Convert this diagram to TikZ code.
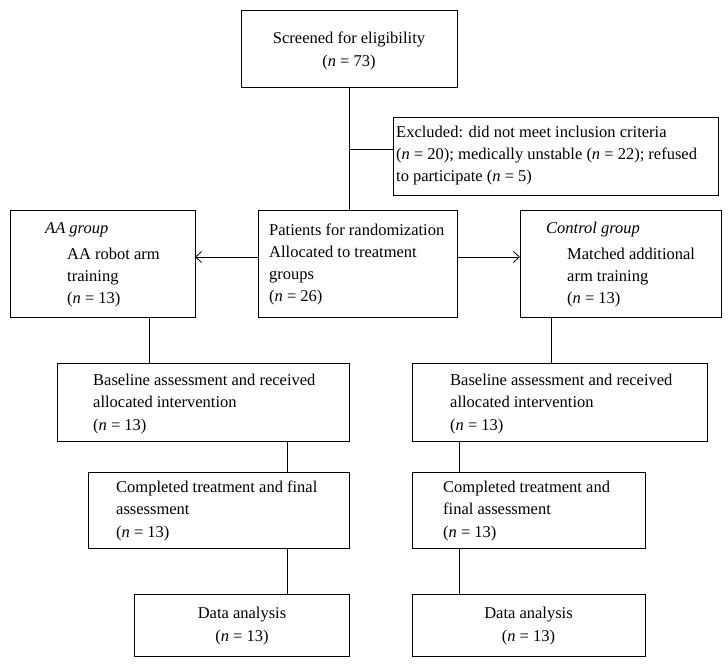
\documentclass[tikz,border=0pt]{standalone}
\usepackage{fontspec}
\setmainfont{Liberation Serif}
\usetikzlibrary{arrows.meta,calc}
\begin{document}
\begin{tikzpicture}[x=1pt,y=-1pt,
  box/.style={draw, line width=0.9pt, inner sep=0pt, outer sep=0pt, anchor=north west},
  txt/.style={inner sep=0pt, anchor=base west, align=left, font=\fontsize{16.5}{22}\selectfont},
  ctxt/.style={inner sep=0pt, align=center, font=\fontsize{16.5}{22.5}\selectfont},
  link/.style={line width=0.8pt},
  arr/.style={line width=0.8pt, -{Straight Barb[length=6pt,width=11pt]}}]
\useasboundingbox[fill=white] (0,0) rectangle (728,667);
% boxes
\node[box, minimum width=216pt, minimum height=77pt] (screened) at (241,10) {};
\node[box, minimum width=325pt, minimum height=78pt] (excl) at (393,117) {};
\node[box, minimum width=185pt, minimum height=107pt] (aa) at (10,210) {};
\node[box, minimum width=199pt, minimum height=107pt] (rand) at (258,210) {};
\node[box, minimum width=201pt, minimum height=107pt] (ctrl) at (520,210) {};
\node[box, minimum width=292pt, minimum height=78pt] (bl) at (57,363) {};
\node[box, minimum width=295pt, minimum height=78pt] (br) at (412,363) {};
\node[box, minimum width=261pt, minimum height=76pt] (cl) at (88,472) {};
\node[box, minimum width=233pt, minimum height=76pt] (cr) at (412,472) {};
\node[box, minimum width=215pt, minimum height=62pt] (dl) at (134,594) {};
\node[box, minimum width=233pt, minimum height=62pt] (dr) at (412,594) {};
% texts (base anchor = baseline of the last line)
\node[ctxt] (tscr) at (349,51) {Screened for eligibility\\(\textit{n} = 73)};
\node[txt] (texcl) at (396,181) {Excluded: did not meet inclusion criteria\\(\textit{n} = 20); medically unstable (\textit{n} = 22); refused\\to participate (\textit{n} = 5)};
\node[txt] (taah) at (45,233) {\textit{AA group}};
\node[txt] (taa) at (67,303) {AA robot arm\\training\\(\textit{n} = 13)};
\node[txt] (trand) at (269,301) {Patients for randomization\\Allocated to treatment\\groups\\(\textit{n} = 26)};
\node[txt] (tctrlh) at (546,233) {\textit{Control group}};
\node[txt] (tctrl) at (567,303) {Matched additional\\arm training\\(\textit{n} = 13)};
\node[txt, font=\fontsize{16.5}{22.5}\selectfont] (tbl) at (93,430) {Baseline assessment and received\\allocated intervention\\(\textit{n} = 13)};
\node[txt, font=\fontsize{16.5}{22.5}\selectfont] (tbr) at (450,430) {Baseline assessment and received\\allocated intervention\\(\textit{n} = 13)};
\node[txt, font=\fontsize{16.5}{22.5}\selectfont] (tcl) at (116,537) {Completed treatment and final\\assessment\\(\textit{n} = 13)};
\node[txt, font=\fontsize{16.5}{22.5}\selectfont] (tcr) at (443,537) {Completed treatment and\\final assessment\\(\textit{n} = 13)};
\node[ctxt] (tdl) at (242,626) {Data analysis\\(\textit{n} = 13)};
\node[ctxt] (tdr) at (528.5,626) {Data analysis\\(\textit{n} = 13)};
% connectors
\draw[link] (screened.south) -- (screened.south |- rand.north);
\coordinate (exb) at ([yshift=7pt]excl.west);
\draw[link] (exb -| screened.south) -- (exb);
\coordinate (ral) at ([yshift=6.5pt]rand.west);
\coordinate (rar) at ([yshift=6.5pt]rand.east);
\draw[arr] (ral) -- (ral -| aa.east);
\draw[arr] (rar) -- (rar -| ctrl.west);
\coordinate (aad) at ([xshift=46.5pt]aa.south);
\draw[link] (aad) -- (aad |- bl.north);
\coordinate (ctd) at ([xshift=-69.5pt]ctrl.south);
\draw[link] (ctd) -- (ctd |- br.north);
\coordinate (bld) at ([xshift=84pt]bl.south);
\draw[link] (bld) -- (bld |- cl.north);
\coordinate (brd) at ([xshift=-100.5pt]br.south);
\draw[link] (brd) -- (brd |- cr.north);
\coordinate (cld) at ([xshift=68.5pt]cl.south);
\draw[link] (cld) -- (cld |- dl.north);
\coordinate (crd) at ([xshift=-69.5pt]cr.south);
\draw[link] (crd) -- (crd |- dr.north);
\end{tikzpicture}
\end{document}
